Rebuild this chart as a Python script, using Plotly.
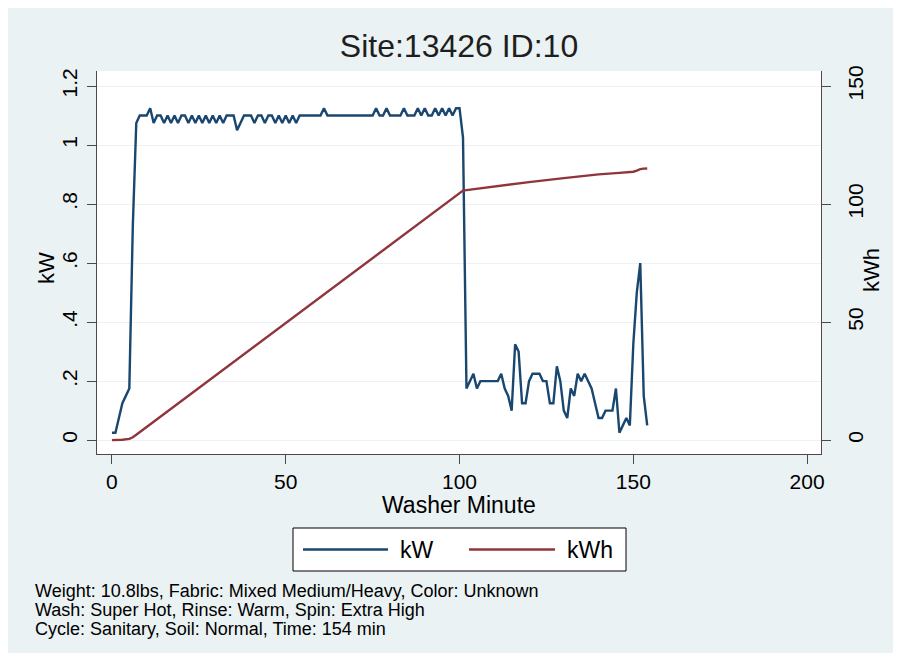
import plotly.graph_objects as go

# ---------------- data ----------------
minutes = list(range(0, 155))
kw = [
    0.025, 0.025, 0.075, 0.125, 0.15, 0.175, 0.725, 1.075, 1.1, 1.1,
    1.1, 1.125, 1.075, 1.1, 1.1, 1.075, 1.1, 1.075, 1.1, 1.075,
    1.1, 1.1, 1.075, 1.1, 1.075, 1.1, 1.075, 1.1, 1.075, 1.1,
    1.075, 1.1, 1.075, 1.1, 1.1, 1.1, 1.05, 1.075, 1.1, 1.1,
    1.1, 1.075, 1.1, 1.1, 1.075, 1.1, 1.1, 1.075, 1.1, 1.075,
    1.1, 1.075, 1.1, 1.075, 1.1, 1.1, 1.1, 1.1, 1.1, 1.1,
    1.1, 1.125, 1.1, 1.1, 1.1, 1.1, 1.1, 1.1, 1.1, 1.1,
    1.1, 1.1, 1.1, 1.1, 1.1, 1.1, 1.125, 1.1, 1.1, 1.125,
    1.1, 1.1, 1.1, 1.1, 1.125, 1.1, 1.1, 1.1, 1.125, 1.1,
    1.125, 1.1, 1.1, 1.125, 1.1, 1.125, 1.1, 1.125, 1.1, 1.125,
    1.125, 1.025, 0.175, 0.2, 0.225, 0.175, 0.2, 0.2, 0.2, 0.2,
    0.2, 0.2, 0.225, 0.175, 0.15, 0.1, 0.325, 0.3, 0.125, 0.125,
    0.2, 0.225, 0.225, 0.225, 0.2, 0.2, 0.125, 0.125, 0.25, 0.2,
    0.1, 0.075, 0.175, 0.15, 0.225, 0.2, 0.225, 0.2, 0.175, 0.125,
    0.075, 0.075, 0.1, 0.1, 0.1, 0.175, 0.025, 0.05, 0.075, 0.05,
    0.325, 0.5, 0.6, 0.15, 0.05,
]
kwh_minutes = [0, 1, 3, 5, 6, 7, 8, 10, 20, 30, 40, 50, 60, 70, 80, 90, 100,
               101, 102, 110, 120, 130, 140, 146, 149, 150, 151, 152, 153, 154]
kwh = [0, 0.03, 0.15, 0.5, 1.2, 2.3, 3.4, 5.6, 16.6, 27.6, 38.6, 49.6, 60.6,
       71.6, 82.6, 93.6, 104.7, 105.7, 105.9, 107.5, 109.3, 111.0, 112.6,
       113.2, 113.4, 113.7, 114.2, 114.8, 115.0, 115.1]

x_ticks = [0, 50, 100, 150, 200]
kw_ticks = [0, 0.2, 0.4, 0.6, 0.8, 1.0, 1.2]
kw_tick_labels = ["0", ".2", ".4", ".6", ".8", "1", "1.2"]
kwh_ticks = [0, 50, 100, 150]

title_text = "Site:13426 ID:10"
note_lines = [
    "Weight: 10.8lbs, Fabric: Mixed Medium/Heavy, Color: Unknown",
    "Wash: Super Hot, Rinse: Warm, Spin: Extra High",
    "Cycle: Sanitary, Soil: Normal, Time: 154 min",
]

# ---------------- style ----------------
FONT = "Liberation Sans, Arial, Helvetica, sans-serif"
NAVY = "#1A476F"
MAROON = "#90353B"
BG = "#EAF2F3"
AXIS = "#4a4a4a"

KW_RANGE = [-0.047, 1.251]
KWH_RANGE = [KW_RANGE[0] * 125, KW_RANGE[1] * 125]

# the page places the figure 8px from the top-left corner
OFF = 8
W, H = 885, 645

fig = go.Figure()
fig.add_trace(go.Scatter(x=minutes, y=kw, mode="lines", name="kW",
                         line=dict(color=NAVY, width=2.4), yaxis="y",
                         showlegend=False))
fig.add_trace(go.Scatter(x=kwh_minutes, y=kwh, mode="lines", name="kWh",
                         line=dict(color=MAROON, width=2.4), yaxis="y2",
                         showlegend=False))

common_axis = dict(showline=True, linecolor=AXIS, linewidth=1, ticks="outside",
                   ticklen=9, tickcolor=AXIS, tickwidth=1, zeroline=False,
                   tickfont=dict(family=FONT, size=21, color="black"))

fig.update_layout(
    width=W, height=H, autosize=False,
    margin=dict(l=97 - OFF, r=OFF + W - 821, t=71 - OFF, b=OFF + H - 454, pad=0),
    paper_bgcolor=BG, plot_bgcolor="white",
    font=dict(family=FONT, color="black"),
    title=dict(text=title_text, x=0.5, xref="paper", y=1 - (46 - OFF) / H,
               yref="container", yanchor="middle", xanchor="center",
               font=dict(family=FONT, size=32, color="#1e1e1e")),
    xaxis=dict(range=[-4.3, 204], tickvals=x_ticks, showgrid=False,
               ticklabelstandoff=0, **common_axis),
    yaxis=dict(range=KW_RANGE, tickvals=kw_ticks, ticktext=kw_tick_labels,
               tickangle=-90, showgrid=True, gridcolor=BG, gridwidth=1,
               ticklabelstandoff=2, **common_axis),
    yaxis2=dict(range=KWH_RANGE, tickvals=kwh_ticks, overlaying="y",
                side="right", tickangle=-90, showgrid=False,
                ticklabelstandoff=7, **common_axis),
    showlegend=False,
)

def px_x(p):
    return (p - 97) / 724

def px_y(p):
    return (454 - p) / 383

annotations = [
    dict(text="Washer Minute", x=0.5, y=px_y(505), xref="paper", yref="paper",
         showarrow=False, xanchor="center", yanchor="middle",
         font=dict(family=FONT, size=23, color="black")),
    dict(text="kW", x=px_x(46), y=px_y(268), xref="paper", yref="paper",
         showarrow=False, textangle=-90, xanchor="center", yanchor="middle",
         font=dict(family=FONT, size=22, color="black")),
    dict(text="kWh", x=px_x(871), y=px_y(270), xref="paper", yref="paper",
         showarrow=False, textangle=-90, xanchor="center", yanchor="middle",
         font=dict(family=FONT, size=22, color="black")),
    dict(text="kW", x=px_x(398), y=px_y(549.5), xref="paper", yref="paper",
         showarrow=False, xanchor="left", yanchor="middle",
         font=dict(family=FONT, size=23, color="black")),
    dict(text="kWh", x=px_x(565), y=px_y(549.5), xref="paper", yref="paper",
         showarrow=False, xanchor="left", yanchor="middle",
         font=dict(family=FONT, size=23, color="black")),
]
for i, line in enumerate(note_lines):
    annotations.append(dict(text=line, x=px_x(33), y=px_y(591 + 19 * i),
                            xref="paper", yref="paper", showarrow=False,
                            xanchor="left", yanchor="middle",
                            font=dict(family=FONT, size=18, color="black")))
fig.update_layout(annotations=annotations)

shapes = [
    # legend box
    dict(type="rect", xref="paper", yref="paper", x0=px_x(293), x1=px_x(626),
         y0=px_y(571), y1=px_y(528), line=dict(color="black", width=1),
         fillcolor="white", layer="below"),
    dict(type="line", xref="paper", yref="paper", x0=px_x(303), x1=px_x(388),
         y0=px_y(549.5), y1=px_y(549.5), line=dict(color=NAVY, width=2.4)),
    dict(type="line", xref="paper", yref="paper", x0=px_x(469), x1=px_x(555),
         y0=px_y(549.5), y1=px_y(549.5), line=dict(color=MAROON, width=2.4)),
]
fig.update_layout(shapes=shapes)

fig.write_html("out.html")
